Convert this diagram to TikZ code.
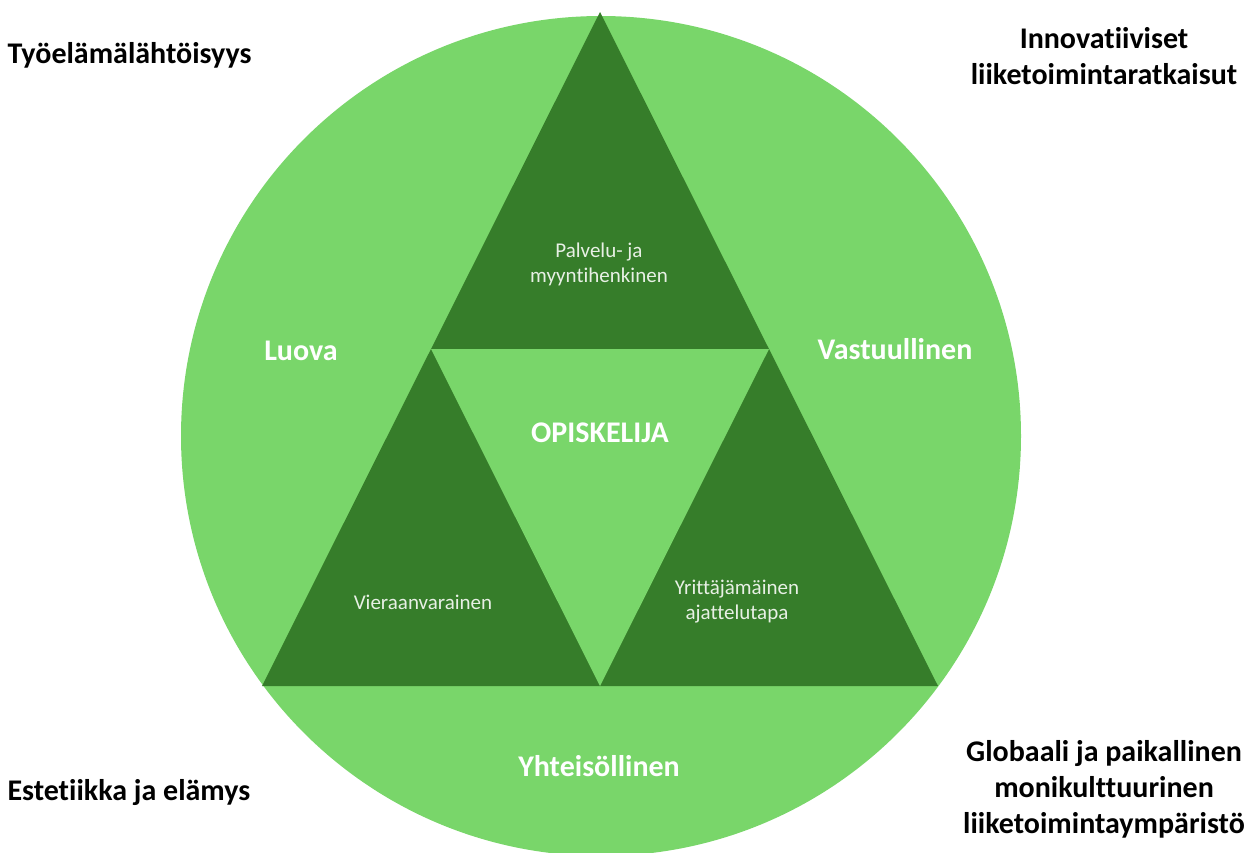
\documentclass[tikz,border=0pt]{standalone}
\usepackage{fontspec}
\setmainfont{Carlito}[Ligatures={NoCommon}]
\usetikzlibrary{calc}
\definecolor{lightgreen}{HTML}{79D66A}
\definecolor{darkgreen}{HTML}{367D2A}
\definecolor{paletext}{HTML}{E8F0E5}
\tikzset{
  big/.style={font=\bfseries\fontsize{30}{36}\selectfont,text=white},
  small/.style={font=\fontsize{21}{25}\selectfont,text=paletext,align=center},
  outer/.style={font=\bfseries\fontsize{30}{36}\selectfont,text=black,align=center}
}
\begin{document}
\begin{tikzpicture}[x=1pt,y=-1pt]
      \useasboundingbox (0,0) rectangle (1256,852);
      \coordinate (c) at (601,436);
      \coordinate (t0) at (600,12);
      \coordinate (t1) at (262,686);
      \coordinate (t2) at (938,686);
      \coordinate (m01) at ($(t0)!.5!(t1)$);
      \coordinate (m02) at ($(t0)!.5!(t2)$);
      \coordinate (m12) at ($(t1)!.5!(t2)$);
      % \draw[help lines,step=50] (0,0) grid (1256,852);
      \fill[lightgreen] (c) circle (420);
      \fill[darkgreen] (t0) -- (t1) -- (t2) -- cycle;
      \fill[lightgreen] (m01) -- (m02) -- (m12) -- cycle;

      \node[big] (luova) at (301,351) {Luova};
      \node[big] (vastuu) at (895,349) {Vastuullinen};
      \node[big] (opisk) at (600,433) {OPISKELIJA};
      \node[big] (yhteis) at (599,766) {Yhteisöllinen};

      \node[small] (palvelu) at (599,264) {Palvelu- ja\\myyntihenkinen};
      \node[small] (vieras) at (423,602) {Vieraanvarainen};
      \node[small] (yrittaja) at (737,602) {Yrittäjämäinen\\ajattelutapa};

      \node[outer,anchor=west] (tyoel) at (4,55) {Työelämälähtöisyys};
      \node[outer] (innov) at (1104,56) {Innovatiiviset\\liiketoimintaratkaisut};
      \node[outer,anchor=west] (estet) at (4,792) {Estetiikka ja elämys};
      \node[outer] (global) at (1104,789) {Globaali ja paikallinen\\monikulttuurinen\\liiketoimintaympäristö};
    \end{tikzpicture}
\end{document}
